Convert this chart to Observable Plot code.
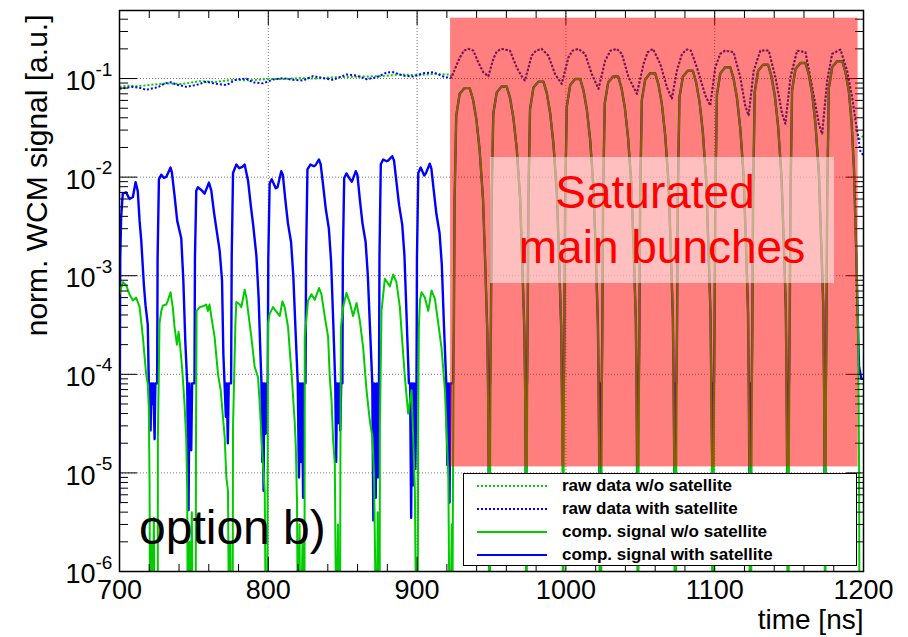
<!DOCTYPE html>
<html><head><meta charset="utf-8">
<script src="https://cdn.jsdelivr.net/npm/d3@7"></script>
<script src="https://cdn.jsdelivr.net/npm/@observablehq/plot@0.6"></script>
<style>
html,body{margin:0;padding:0;background:#fff;overflow:hidden}
#wrap{position:relative;width:908px;height:637px;font-family:"Liberation Sans",Arial,Helvetica,sans-serif}
#wrap svg{display:block}
.ov{position:absolute;white-space:nowrap}
</style></head><body><div id="wrap"></div>
<script>
// ---------------- data (time in ns, normalised WCM signal) ----------------
// raw data without satellite, before the saturated region
const rawNoSatLeft = [[700.0,0.0826],[706.0,0.0845],[712.0,0.0835],[720.0,0.0860],[731.4,0.0893],[742.0,0.0880],[753.8,0.0940],[765.0,0.0925],[776.0,0.0970],[787.0,0.0960],[798.9,0.0985],[810.0,0.0990],[821.5,0.1010],[832.0,0.1000],[843.5,0.1030],[855.0,0.1040],[866.0,0.1050],[877.0,0.1060],[888.4,0.1100],[900.0,0.1080],[910.8,0.1110],[922.1,0.1100]];
// raw data with satellite, before the saturated region
const rawWithSatLeft = [[700.0,0.0787],[708.7,0.0825],[713.5,0.0805],[718.0,0.0769],[725.8,0.0817],[730.3,0.0895],[734.8,0.0915],[738.2,0.0868],[744.9,0.0826],[751.6,0.0860],[758.3,0.0930],[765.1,0.0883],[771.8,0.0860],[778.5,0.0977],[785.3,0.1000],[789.7,0.0915],[796.4,0.0895],[803.2,0.0977],[809.9,0.1010],[816.6,0.0970],[823.4,0.0955],[830.1,0.1060],[836.8,0.1010],[843.5,0.0970],[852.6,0.1100],[859.3,0.1070],[866.0,0.0985],[872.7,0.1030],[879.5,0.1150],[883.9,0.1160],[890.6,0.1070],[897.4,0.1050],[904.1,0.1130],[910.8,0.1160],[917.6,0.1050],[922.1,0.1010]];
// raw data in the saturated region (both curves coincide)
const rawSaturated = [[923.2,0.103],[925.5,0.126],[928.8,0.164],[931.5,0.192],[934.4,0.200],[937.8,0.192],[941.1,0.146],[944.5,0.116],[947.9,0.105],[951.2,0.158],[953.5,0.188],[956.8,0.200],[962.4,0.192],[966.9,0.130],[970.0,0.107],[972.5,0.0955],[977.0,0.171],[980.0,0.192],[983.7,0.200],[988.2,0.171],[992.7,0.111],[997.2,0.0883],[1001.7,0.164],[1004.5,0.192],[1008.4,0.200],[1012.9,0.178],[1017.4,0.111],[1021.9,0.0787],[1026.4,0.152],[1030.0,0.192],[1034.2,0.200],[1037.6,0.178],[1042.1,0.103],[1047.7,0.070],[1052.2,0.141],[1055.0,0.185],[1058.5,0.200],[1063.4,0.141],[1067.9,0.0817],[1071.2,0.0623],[1074.6,0.120],[1078.0,0.178],[1081.4,0.197],[1084.0,0.192],[1088.0,0.130],[1093.7,0.0675],[1097.0,0.0532],[1100.4,0.130],[1103.7,0.178],[1107.0,0.192],[1112.7,0.185],[1117.2,0.103],[1120.5,0.0532],[1122.8,0.0422],[1126.2,0.120],[1130.7,0.192],[1136.3,0.192],[1140.8,0.103],[1145.3,0.0439],[1147.5,0.0348],[1150.9,0.103],[1155.4,0.192],[1161.0,0.185],[1165.5,0.0817],[1170.0,0.0348],[1172.2,0.0275],[1175.6,0.0955],[1178.9,0.178],[1184.5,0.197],[1189.0,0.120],[1192.4,0.0646],[1194.6,0.0375],[1196.8,0.0235]];
const rawNoSatEnd = [[1198.0,0.0254],[1200.0,0.0260]];
const rawWithSatEnd = [[1198.0,0.0180],[1200.0,0.0166]];

// compensated signal with satellite (blue), before the saturated region
const compWithSatLeft = [[700.0,5e-6],[700.5,1.5e-3],[701.1,3.9e-3],[702.2,6.8e-3],[704.5,7.0e-3],[706.7,6.0e-3],[709.0,6.3e-3],[710.8,8.9e-3],[712.3,7.2e-3],[713.5,3.6e-3],[714.6,2.3e-3],[716.4,8e-4],[717.5,5e-4],[719.0,3.2e-4],[719.7,8.1e-5],[720.3,8.1e-5],[720.9,2.7e-5],[721.4,8.1e-5],[722.2,5e-5],[722.7,8.1e-5],[723.6,2.2e-5],[724.1,8.1e-5],[725.3,8.1e-5],
[725.6,1.5e-3],[726.5,9.5e-3],[728.1,1.06e-2],[729.9,9.8e-3],[731.5,1.01e-2],[734.3,1.25e-2],[735.2,1.12e-2],[737.0,6.5e-3],[738.8,3.6e-3],[741.5,2.4e-3],[742.9,9e-4],[744.2,2.2e-4],[745.5,8.1e-5],[746.4,4.2e-6],[747.0,8.1e-5],[748.2,1.7e-5],[748.8,8.1e-5],[750.4,8.1e-5],
[750.7,1.5e-3],[751.6,7.3e-3],[752.7,7.9e-3],[755.4,7.3e-3],[757.2,6.8e-3],[760.1,8.8e-3],[761.7,7.3e-3],[763.5,4.4e-3],[765.1,3.0e-3],[767.3,1.8e-3],[768.9,9e-4],[769.8,1.6e-4],[770.6,8.1e-5],[771.5,3.7e-5],[772.0,8.1e-5],[772.8,2.0e-5],[773.4,8.1e-5],[775.0,8.1e-5],
[775.4,1.5e-3],[776.3,1.1e-2],[778.5,1.34e-2],[780.5,1.23e-2],[782.5,1.27e-2],[784.1,1.34e-2],[786.4,9.2e-3],[788.2,5.2e-3],[789.8,3.3e-3],[792.0,1.6e-3],[793.5,6e-4],[794.6,1.8e-4],[795.4,8.1e-5],[795.9,1.3e-5],[796.3,8.1e-5],[796.8,6.6e-6],[797.3,8.1e-5],[798.3,2.5e-5],[798.8,8.1e-5],[799.6,8.1e-5],
[800.0,1.5e-3],[800.9,8.6e-3],[802.3,9.5e-3],[805.0,7.7e-3],[806.2,7.9e-3],[808.7,1.15e-2],[809.8,1.05e-2],[811.4,6.0e-3],[813.2,3.4e-3],[815.3,2.2e-3],[816.8,1.0e-3],[818.3,2.8e-4],[819.8,8.1e-5],[820.6,9e-6],[821.2,8.1e-5],[822.0,1.3e-5],[822.6,8.1e-5],[823.4,5.6e-6],[824.0,8.1e-5],[825.0,8.1e-5],
[825.4,1.5e-3],[826.3,1.2e-2],[828.3,1.34e-2],[830.6,1.29e-2],[831.7,1.32e-2],[834.0,1.51e-2],[835.2,1.35e-2],[836.8,8.4e-3],[838.6,4.8e-3],[840.7,3.0e-3],[842.2,1.4e-3],[843.7,3.2e-4],[845.0,8.1e-5],[845.6,1.3e-5],[846.2,8.1e-5],[847.0,3.2e-5],[847.6,8.1e-5],[848.4,2.7e-5],[849.0,8.1e-5],[849.8,8.1e-5],
[850.1,1.5e-3],[851.0,9.8e-3],[852.5,1.09e-2],[854.5,9.7e-3],[856.2,9.0e-3],[858.8,1.15e-2],[859.9,1.05e-2],[861.5,6.0e-3],[863.3,3.4e-3],[865.4,2.2e-3],[866.9,1.0e-3],[868.4,2.8e-4],[869.9,8.1e-5],[870.6,3.3e-6],[871.2,8.1e-5],[872.2,5.6e-6],[872.8,8.1e-5],[873.6,9e-6],[874.4,8.1e-5],
[874.7,1.5e-3],[875.6,1.35e-2],[877.2,1.51e-2],[879.5,1.45e-2],[880.5,1.47e-2],[883.3,1.63e-2],[884.5,1.47e-2],[886.1,9.0e-3],[887.9,5.2e-3],[890.0,3.3e-3],[891.5,1.6e-3],[893.0,3.6e-4],[894.5,8.1e-5],[895.3,8.1e-5],[896.0,3.5e-6],[896.6,8.1e-5],[897.4,7.5e-6],[898.0,8.1e-5],[898.8,1.1e-5],[899.6,8.1e-5],
[899.9,1.5e-3],[900.8,1.1e-2],[902.4,1.25e-2],[904.8,1.04e-2],[906.0,1.1e-2],[908.5,1.37e-2],[909.6,1.22e-2],[911.2,7.3e-3],[913.0,4.2e-3],[915.1,2.7e-3],[916.6,1.3e-3],[918.1,3.0e-4],[919.6,8.1e-5],[920.3,1.2e-5],[920.9,8.1e-5],[921.8,5e-6],[922.4,8.1e-5],[924.2,8.1e-5]];

// compensated signal without satellite (green), before the saturated region (1e-7 = below the axis)
const compNoSatLeft = [[700.0,6.5e-4],[702.2,8.6e-4],[704.5,8.0e-4],[706.7,6.5e-4],[709.0,5.6e-4],[711.2,6.0e-4],[713.5,4.8e-4],[715.7,2.4e-4],[717.9,1.0e-4],[719.0,8.0e-5],[719.7,4.6e-5],[720.2,7.8e-6],[720.6,1e-7],[721.6,2e-6],[722.0,1e-7],[723.1,3.5e-6],[723.6,1e-7],[725.7,1e-7],
[725.8,2.3e-5],[726.9,3.3e-4],[728.1,4.4e-4],[729.2,5.0e-4],[731.4,5.1e-4],[732.5,5.6e-4],[734.3,6.8e-4],[735.8,4.8e-4],[737.0,3.0e-4],[738.6,2.0e-4],[739.7,2.7e-4],[740.8,1.9e-4],[742.2,1.1e-4],[743.7,5e-5],[744.9,2.1e-5],[745.5,6.6e-6],[746.0,1e-7],[747.0,2e-6],[747.5,1e-7],[748.6,4e-6],[749.2,1e-7],[751.2,1e-7],
[751.4,2e-5],[751.8,4.4e-4],[753.9,4.8e-4],[756.0,4.9e-4],[758.3,5.1e-4],[759.4,4.4e-4],[760.5,5.1e-4],[762.0,3.6e-4],[763.9,2.4e-4],[766.2,1.0e-4],[768.0,6.9e-5],[769.5,3.7e-5],[770.7,2.3e-5],[771.8,9e-6],[772.9,6.6e-6],[773.8,1e-7],[774.5,2e-6],[775.0,1e-7],[776.0,1e-7],
[776.3,3e-5],[777.9,3.3e-4],[778.5,5.4e-4],[780.8,5.1e-4],[781.9,4.8e-4],[784.1,7.2e-4],[785.3,6.0e-4],[786.9,3.8e-4],[788.6,2.4e-4],[790.8,1.2e-4],[793.1,9.3e-5],[794.2,5.1e-5],[795.4,2.3e-5],[796.4,1.24e-5],[797.6,6.6e-6],[798.5,1e-7],[799.4,1e-7],
[799.6,2e-5],[799.9,3.3e-4],[800.9,4.1e-4],[803.2,4.8e-4],[807.7,3.9e-4],[809.5,5.5e-4],[811.0,4.8e-4],[813.3,3.0e-4],[814.6,1.6e-4],[815.5,1.09e-4],[817.8,3.2e-5],[818.5,1.8e-5],[819.3,5e-6],[820.0,1e-7],[821.0,3e-6],[821.5,1e-7],[823.0,2e-6],[823.4,1e-7],[824.3,1e-7],
[824.5,2.4e-4],[826.7,5.6e-4],[829.0,6.5e-4],[831.2,5.7e-4],[834.1,7.5e-4],[835.7,6.5e-4],[838.0,3.8e-4],[840.2,2.4e-4],[841.3,9.3e-5],[842.5,5.4e-5],[843.6,2.1e-5],[844.7,1.24e-5],[845.8,1e-7],[846.8,3e-6],[847.3,1e-7],[848.1,1e-7],
[848.5,2e-5],[848.8,3e-4],[850.3,4.8e-4],[852.5,6.7e-4],[854.8,5.3e-4],[857.0,3.9e-4],[859.3,5.3e-4],[861.5,3.5e-4],[863.7,1.9e-4],[866.0,6.9e-5],[868.2,3.4e-5],[870.0,2.3e-5],[871.1,9e-6],[872.7,1e-7],[873.5,4e-6],[874.0,1e-7],[874.8,1e-7],
[875.0,3e-5],[876.1,4.4e-4],[878.3,9.3e-4],[879.9,8.6e-4],[881.7,7.8e-4],[883.9,1.03e-3],[886.1,8.6e-4],[888.4,4.8e-4],[889.8,2.4e-4],[891.8,9.3e-5],[894.0,4.0e-5],[896.3,6.9e-5],[897.4,2.3e-5],[898.5,6.6e-6],[899.6,1e-7],[900.4,1e-7],
[900.7,3e-5],[901.2,3e-4],[901.9,5.6e-4],[903.0,6.8e-4],[905.2,6.0e-4],[907.5,4.4e-4],[909.7,7.1e-4],[912.0,5.8e-4],[914.2,3.3e-4],[916.5,1.8e-4],[918.7,6.9e-5],[919.8,2.7e-5],[921.0,9e-6],[922.0,1e-7],[923.3,3e-6],[923.6,1e-7],[924.2,1.5e-5]];

// compensated signals in the saturated region (both curves coincide on the bunches)
const compSaturated = [
[924.7,3e-4],[925.2,6e-3],[926.3,0.042],[928.6,0.070],[931.9,0.080],[935.3,0.080],[937.5,0.062],[939.8,0.039],[942.0,0.019],[944.3,6.0e-3],[945.8,1.3e-3],[947.2,2.6e-4],
[949.6,3e-4],[950.1,6e-3],[951.2,0.044],[953.5,0.072],[956.8,0.083],[960.2,0.083],[962.4,0.064],[964.7,0.040],[966.9,0.020],[969.2,6.2e-3],[970.7,1.3e-3],[972.1,2.7e-4],
[974.3,3e-4],[974.8,6e-3],[975.9,0.049],[978.2,0.081],[981.5,0.093],[984.9,0.093],[987.1,0.072],[989.4,0.045],[991.6,0.022],[993.9,7.0e-3],[995.4,1.5e-3],[996.8,3.1e-4],
[999.0,3e-4],[999.5,6e-3],[1000.6,0.052],[1002.9,0.086],[1006.2,0.099],[1009.6,0.099],[1011.8,0.076],[1014.1,0.048],[1016.3,0.024],[1018.6,7.4e-3],[1020.1,1.6e-3],[1021.5,3.3e-4],
[1024.5,3e-4],[1025.0,6e-3],[1026.1,0.056],[1028.4,0.091],[1031.7,0.105],[1035.1,0.105],[1037.3,0.081],[1039.6,0.051],[1041.8,0.025],[1044.1,7.9e-3],[1045.6,1.7e-3],[1047.0,3.5e-4],
[1049.4,3e-4],[1049.9,6e-3],[1051.0,0.060],[1053.3,0.098],[1056.6,0.113],[1060.0,0.113],[1062.2,0.087],[1064.5,0.055],[1066.7,0.027],[1069.0,8.5e-3],[1070.5,1.8e-3],[1071.9,3.7e-4],
[1074.7,3e-4],[1075.2,6e-3],[1076.3,0.064],[1078.6,0.104],[1081.9,0.120],[1085.3,0.120],[1087.5,0.092],[1089.8,0.058],[1092.0,0.029],[1094.3,9.0e-3],[1095.8,1.9e-3],[1097.2,4.0e-4],
[1099.9,3e-4],[1100.4,6e-3],[1101.5,0.069],[1103.8,0.113],[1107.1,0.130],[1110.5,0.130],[1112.7,0.100],[1115.0,0.063],[1117.2,0.031],[1119.5,9.8e-3],[1121.0,2.1e-3],[1122.4,4.3e-4],
[1125.3,3e-4],[1125.8,6e-3],[1126.9,0.073],[1129.2,0.120],[1132.5,0.138],[1135.9,0.138],[1138.1,0.106],[1140.4,0.067],[1142.6,0.033],[1144.9,1.0e-2],[1146.4,2.2e-3],[1147.8,4.6e-4],
[1150.4,3e-4],[1150.9,6e-3],[1152.0,0.076],[1154.3,0.125],[1157.6,0.144],[1161.0,0.144],[1163.2,0.111],[1165.5,0.070],[1167.7,0.035],[1170.0,1.1e-2],[1171.5,2.3e-3],[1173.0,4.8e-4],
[1175.1,3e-4],[1175.6,6e-3],[1176.7,0.080],[1179.0,0.131],[1182.3,0.150],[1185.7,0.150],[1187.9,0.116],[1190.2,0.073],[1192.0,0.036],[1193.6,0.012],[1195.0,2.0e-3],[1196.3,3.0e-4]];
// gaps between saturated bunches: blue sits on its floor, green drops below the axis
const compWithSatGaps = [[947.7,8.1e-5],[948.3,4e-6],[948.8,8.1e-5],[949.1,8.1e-5],[972.6,8.1e-5],[973.2,3e-6],[973.7,8.1e-5],[973.9,8.1e-5],[997.3,8.1e-5],[997.9,1.2e-5],[998.4,8.1e-5],[998.6,8.1e-5],[1022.0,8.1e-5],[1022.6,5e-6],[1023.1,8.1e-5],[1024.1,8.1e-5],[1047.5,8.1e-5],[1048.1,2.5e-6],[1048.6,8.1e-5],[1049.0,8.1e-5],[1072.4,8.1e-5],[1073.0,6e-6],[1073.5,8.1e-5],[1074.3,8.1e-5],[1097.7,8.1e-5],[1098.3,1.5e-5],[1098.8,8.1e-5],[1099.5,8.1e-5],[1122.9,8.1e-5],[1123.5,3e-6],[1124.0,8.1e-5],[1124.9,8.1e-5],[1148.3,8.1e-5],[1148.9,4e-6],[1149.4,8.1e-5],[1150.0,8.1e-5],[1173.5,8.1e-5],[1174.1,2e-6],[1174.6,8.1e-5],[1174.7,8.1e-5],[1197.0,1.2e-4],[1198.5,9e-5],[1200.0,9e-5]];
const compNoSatGaps = [[948.1,1.3e-5],[948.4,1e-7],[948.7,3e-6],[948.9,1e-7],[949.1,1.5e-5],[973.0,1.3e-5],[973.3,1e-7],[973.5,2e-6],[973.7,1e-7],[973.8,1.5e-5],[997.7,1.3e-5],[998.0,1e-7],[998.3,4e-6],[998.4,1e-7],[998.5,1.5e-5],[1022.4,1.3e-5],[1022.7,1e-7],[1023.3,3e-6],[1023.6,1e-7],[1024.0,1.5e-5],[1047.9,1.3e-5],[1048.2,1e-7],[1048.5,2e-6],[1048.7,1e-7],[1048.9,1.5e-5],[1072.8,1.3e-5],[1073.1,1e-7],[1073.6,5e-6],[1073.9,1e-7],[1074.2,1.5e-5],[1098.1,1.3e-5],[1098.4,1e-7],[1098.8,3e-6],[1099.1,1e-7],[1099.4,1.5e-5],[1123.3,1.3e-5],[1123.6,1e-7],[1124.1,4e-6],[1124.4,1e-7],[1124.8,1.5e-5],[1148.7,1.3e-5],[1149.0,1e-7],[1149.4,2e-6],[1149.6,1e-7],[1149.9,1.5e-5],[1173.8,1.3e-5],[1174.1,1e-7],[1174.3,3e-6],[1174.4,1e-7],[1174.6,1.5e-5],[1197.0,1.3e-5],[1197.4,1e-7],[1200.0,1e-7]];

// shaded "saturated" time window
const saturatedRegion = [{t1: 922.5, t2: 1196.4, v1: 1.15e-5, v2: 0.41}];

// axes
const xTickLabels = [700, 800, 900, 1000, 1100, 1200];
const xMinorTicks = [720,740,760,780,820,840,860,880,920,940,960,980,1020,1040,1060,1080,1120,1140,1160,1180];
const xGridTicks = [800, 900, 1000, 1100];
const yDecades = [1e-6, 1e-5, 1e-4, 1e-3, 1e-2, 1e-1];
const yGridTicks = [1e-5, 1e-4, 1e-3, 1e-2, 1e-1];
const yExponents = ["-6", "-5", "-4", "-3", "-2", "-1"];
const yTop = 0.49;
const yMinorTicks = [];
for (let e = -6; e <= -1; e++) for (let k = 2; k <= 9; k++) { const v = +(k + "e" + e); if (v <= yTop) yMinorTicks.push(v); }

const legendLabels = ["raw data w/o satellite", "raw data with satellite", "comp. signal w/o satellite", "comp. signal with satellite"];
const annotation = ["Saturated", "main bunches"];
const panelLabel = "option b)";

// ---------------- build ----------------
const FONT = '"Liberation Sans", Arial, Helvetica, sans-serif';
const GREEN = "#00cc00", BLUE = "#0000ff";
const rows = pairs => pairs.map(([t, v]) => ({t, v}));
const byT = (a, b) => a.t - b.t;
const rawNoSat = rows([...rawNoSatLeft, ...rawSaturated, ...rawNoSatEnd]).sort(byT);
const rawWithSat = rows([...rawWithSatLeft, ...rawSaturated, ...rawWithSatEnd]).sort(byT);
const compNoSat = rows([...compNoSatLeft, ...compSaturated, ...compNoSatGaps]).sort(byT);
const compWithSat = rows([...compWithSatLeft, ...compSaturated, ...compWithSatGaps]).sort(byT);

const noText = () => "";
const chart = Plot.plot({
  width: 908, height: 637,
  marginLeft: 119, marginRight: 45, marginTop: 10, marginBottom: 66,
  style: {fontFamily: FONT, background: "white", overflow: "visible"},
  x: {domain: [700, 1200], axis: null},
  y: {type: "log", domain: [1e-6, yTop], axis: null},
  marks: [
    Plot.gridX(xGridTicks, {stroke: "#777", strokeOpacity: 1, strokeDasharray: "1,2"}),
    Plot.gridY(yGridTicks, {stroke: "#777", strokeOpacity: 1, strokeDasharray: "1,2"}),
    Plot.line(rawNoSat, {x: "t", y: "v", stroke: GREEN, strokeWidth: 2, strokeDasharray: "2,2", strokeLinecap: "butt", clip: true}),
    Plot.line(rawWithSat, {x: "t", y: "v", stroke: BLUE, strokeWidth: 2, strokeDasharray: "2,2", strokeLinecap: "butt", clip: true}),
    Plot.line(compWithSat, {x: "t", y: "v", stroke: BLUE, strokeWidth: 2.4, curve: "linear", clip: true}),
    Plot.line(compNoSat, {x: "t", y: "v", stroke: GREEN, strokeWidth: 2, curve: "linear", clip: true}),
    Plot.axisX(xTickLabels, {anchor: "bottom", tickSize: -14, tickFormat: noText, label: null}),
    Plot.axisX(xMinorTicks, {anchor: "bottom", tickSize: -7, tickFormat: noText, label: null}),
    Plot.axisX(xTickLabels, {anchor: "top", tickSize: -14, tickFormat: noText, label: null}),
    Plot.axisX(xMinorTicks, {anchor: "top", tickSize: -7, tickFormat: noText, label: null}),
    Plot.axisY(yDecades, {anchor: "left", tickSize: -18, tickFormat: noText, label: null}),
    Plot.axisY(yMinorTicks, {anchor: "left", tickSize: -9, tickFormat: noText, label: null}),
    Plot.axisY(yDecades, {anchor: "right", tickSize: -18, tickFormat: noText, label: null}),
    Plot.axisY(yMinorTicks, {anchor: "right", tickSize: -9, tickFormat: noText, label: null}),
    Plot.rect(saturatedRegion, {x1: "t1", x2: "t2", y1: "v1", y2: "v2", fill: "#ff0000", fillOpacity: 0.5}),
    Plot.frame({stroke: "black", strokeWidth: 1.5}),
    Plot.text(xTickLabels, {x: d => d, frameAnchor: "bottom", text: d => String(d), lineAnchor: "top", dy: 8, fontSize: 27, fill: "black"}),
    Plot.text(yDecades, {y: d => d, frameAnchor: "left", text: () => "10", textAnchor: "end", dx: -24, dy: 3, fontSize: 27, fill: "black"}),
    Plot.text(yDecades, {y: d => d, frameAnchor: "left", text: (d, i) => yExponents[i], textAnchor: "start", dx: -24, dy: -9, fontSize: 19, fill: "black"}),
    Plot.text(["time [ns]"], {frameAnchor: "bottom-right", text: d => d, textAnchor: "end", lineAnchor: "bottom", dy: 57, fontSize: 28, fill: "black"}),
    Plot.text(["norm. WCM signal [a.u.]"], {frameAnchor: "top-left", text: d => d, rotate: -90, textAnchor: "end", lineAnchor: "bottom", dx: -73, dy: 4, fontSize: 30, fill: "black"})
  ]
});
const wrap = document.getElementById("wrap");
wrap.appendChild(chart);

function ov(html, css) { const d = document.createElement("div"); d.className = "ov"; d.style.cssText = css; d.innerHTML = html; wrap.appendChild(d); return d; }
// translucent text panel
ov("", "left:490px;top:157px;width:344px;height:126px;background:rgba(255,255,255,0.5);");
ov(annotation[0], "left:455px;top:169px;width:400px;text-align:center;font-size:46px;line-height:46px;color:#ff0000;");
ov(annotation[1], "left:462px;top:224px;width:400px;text-align:center;font-size:46px;line-height:46px;color:#ff0000;");
ov(panelLabel, "left:139px;top:504px;font-size:48px;line-height:48px;color:#000;");
// legend
const leg = ov("", "left:463px;top:473px;width:394px;height:93px;border:1px solid #000;background:#fff;box-sizing:border-box;");
const legStyles = [[GREEN, "2,2"], [BLUE, "2,2"], [GREEN, null], [BLUE, null]];
legendLabels.forEach((lab, i) => {
  const cy = 12 + i * 23.1;
  const [c, dash] = legStyles[i];
  const e = document.createElement("div");
  e.className = "ov";
  e.style.cssText = `left:13px;top:${cy - 12}px;height:24px;width:370px;`;
  e.innerHTML = `<svg width="70" height="24" style="position:absolute;left:0;top:0"><line x1="0" x2="70" y1="12" y2="12" stroke="${c}" stroke-width="2" ${dash ? `stroke-dasharray="${dash}"` : ""}/></svg>` +
    `<span style="position:absolute;left:85px;top:0;line-height:24px;font-size:17px;font-weight:bold;color:#000">${lab}</span>`;
  leg.appendChild(e);
});
</script></body></html>
